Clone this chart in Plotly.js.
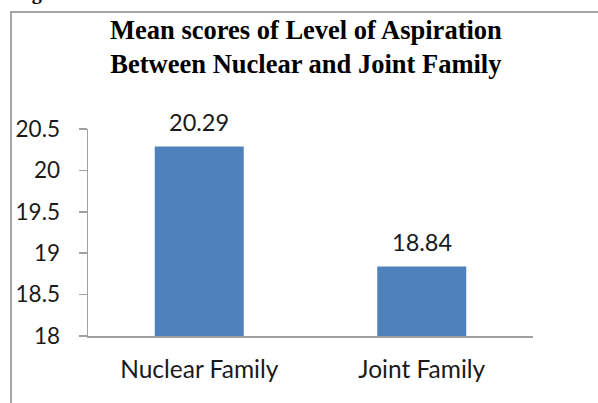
<!DOCTYPE html>
<html><head><meta charset="utf-8">
<script src="https://cdn.plot.ly/plotly-3.0.1.min.js"></script>
<style>
body{margin:0;padding:0;background:#fff;overflow:hidden;}
#wrap{position:relative;width:598px;height:403px;}
#chart{position:absolute;left:0;top:0;width:598px;height:403px;}
#frame{position:absolute;left:10px;top:11px;width:600px;height:400px;border-left:2px solid #a6a6a6;border-top:2px solid #a6a6a6;pointer-events:none;}
#fig{position:absolute;left:14px;top:-19px;font-family:"Liberation Serif",serif;font-weight:bold;font-size:20px;color:#000;}
</style></head>
<body>
<div id="wrap"><div id="chart"></div><div id="frame"></div><div id="fig">Figure</div></div>
<script>
const categories = ["Nuclear Family", "Joint Family"];
const meanScores = [20.29, 18.84];
const axisMin = 18;
const yTicks = [18, 18.5, 19, 19.5, 20, 20.5];
const yTickLabels = ["18", "18.5", "19", "19.5", "20", "20.5"];
const titleText = 'Mean scores of Level of Aspiration<br>Between Nuclear and Joint Family';

const fam = 'Lato, "Open Sans", sans-serif';

const trace = {
  type: 'bar',
  x: categories,
  y: meanScores.map(v => v - axisMin),
  base: axisMin,
  marker: {color: '#4F81BD'},
  hoverinfo: 'none'
};

const annotations = categories.map((c, i) => ({
  x: c, y: meanScores[i], xref: 'x', yref: 'y',
  text: meanScores[i].toFixed(2), showarrow: false,
  yanchor: 'bottom', yshift: 8,
  font: {family: fam, size: 23.5, color: '#1a1a1a'}
}));
annotations.push({
  xref: 'paper', yref: 'paper', x: 0.489, y: 1.396,
  xanchor: 'center', yanchor: 'middle', showarrow: false,
  text: titleText,
  font: {family: '"Liberation Serif", serif', size: 26.5, color: '#000', weight: 'bold'}
});

const layout = {
  width: 598, height: 403,
  margin: {l: 88, r: 65, t: 129, b: 67},
  paper_bgcolor: 'rgba(0,0,0,0)', plot_bgcolor: 'rgba(0,0,0,0)',
  showlegend: false,
  bargap: 0.6,
  xaxis: {
    type: 'category', showgrid: false, zeroline: false,
    showline: true, linecolor: '#a0a0a0', linewidth: 1.5,
    ticks: '', tickfont: {family: fam, size: 24.5, color: '#1a1a1a'},
    ticklabelstandoff: 11, fixedrange: true
  },
  yaxis: {
    range: [18, 20.5], tickvals: yTicks, ticktext: yTickLabels,
    showgrid: false, zeroline: false,
    showline: true, linecolor: '#a0a0a0', linewidth: 1.5,
    ticks: 'outside', ticklen: 8, tickcolor: '#a0a0a0', tickwidth: 1.5,
    tickfont: {family: fam, size: 22.5, color: '#1a1a1a'},
    ticklabelstandoff: 14, fixedrange: true
  },
  annotations: annotations
};
Plotly.newPlot('chart', [trace], layout, {displayModeBar: false, staticPlot: true});
</script>
</body></html>
